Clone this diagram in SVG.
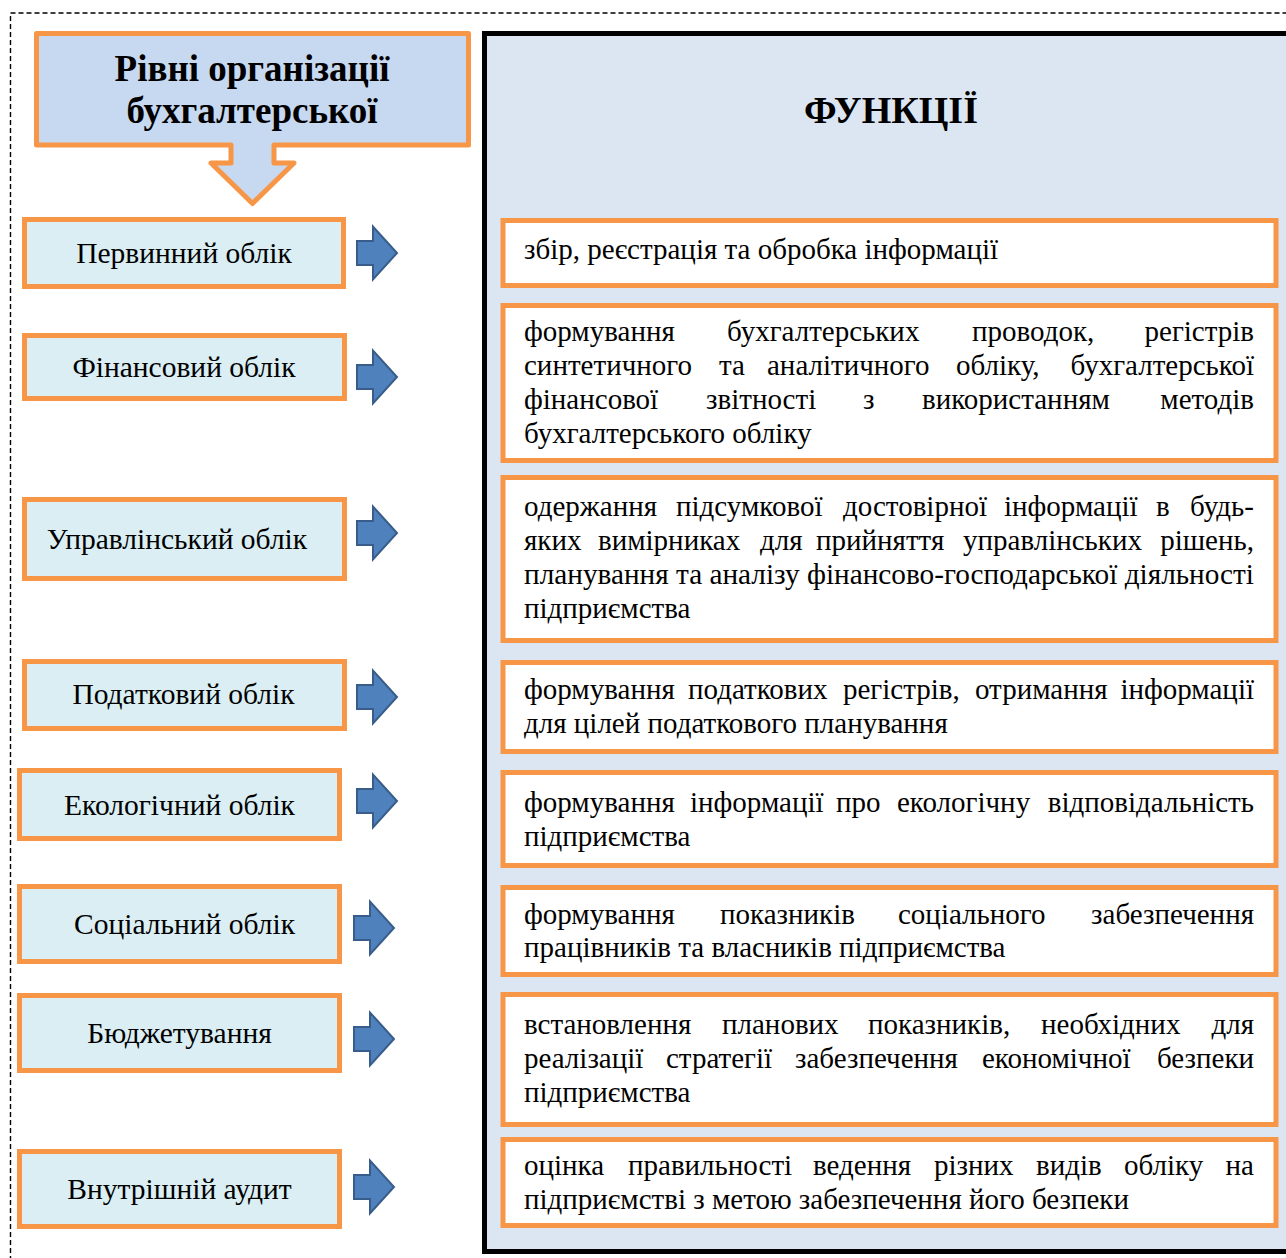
<svg xmlns="http://www.w3.org/2000/svg" width="1286" height="1258" viewBox="0 0 1286 1258">
<style>
.lvl{fill:#DAEEF3;stroke:#F79646;stroke-width:5}
.fn{fill:#FFFFFF;stroke:#F79646;stroke-width:5}
.lt{font-family:"Liberation Serif","Times New Roman",serif;font-size:29.5px;fill:#000;text-anchor:middle}
.t{font-family:"Liberation Serif","Times New Roman",serif;font-size:29px;fill:#000}
.e{text-anchor:end}
.h{font-family:"Liberation Serif","Times New Roman",serif;font-size:37px;font-weight:bold;fill:#000;text-anchor:middle}
.arr{fill:#4F81BD;stroke:#385D8A;stroke-width:2;stroke-linejoin:miter}
</style>
<defs>
<path id="ar" d="M0,-12 H16 V-26.5 L40,0 L16,26.5 V12 H0 Z"/>
</defs>
<rect width="1286" height="1258" fill="#FFFFFF"/>
<rect id="outer" x="10.5" y="13" width="1300" height="1300" fill="none" stroke="#000" stroke-width="1.4" stroke-dasharray="5,3"/>

<g id="panel">
<rect x="484.5" y="33.5" width="900" height="1218" fill="#DCE6F2" stroke="#000" stroke-width="5"/>
<text class="h" x="891" y="123" style="font-size:38px">ФУНКЦІЇ</text>
</g>

<g id="header">
<path d="M36.5,33.5 H468.5 V145 H274 V163 H294 L252.5,203.5 L211,163 H231 V145 H36.5 Z" fill="#C6D9F1" stroke="#F79646" stroke-width="5" stroke-linejoin="round"/>
<text class="h" x="252" y="81">Рівні організації</text>
<text class="h" x="252" y="123">бухгалтерської</text>
</g>

<g id="level1"><rect class="lvl" x="24.5" y="219.5" width="319" height="67"/><text class="lt" x="184" y="263">Первинний облік</text></g>
<g id="level2"><rect class="lvl" x="24.5" y="335.5" width="320" height="63"/><text class="lt" x="184" y="377">Фінансовий облік</text></g>
<g id="level3"><rect class="lvl" x="24.5" y="499.5" width="320" height="79"/><text class="lt" x="177" y="549">Управлінський облік</text></g>
<g id="level4"><rect class="lvl" x="24.5" y="661.5" width="320" height="67"/><text class="lt" x="183.5" y="704">Податковий облік</text></g>
<g id="level5"><rect class="lvl" x="19.5" y="770.5" width="320" height="68"/><text class="lt" x="179.5" y="815">Екологічний облік</text></g>
<g id="level6"><rect class="lvl" x="19.5" y="886.5" width="320" height="75"/><text class="lt" x="184.5" y="934">Соціальний облік</text></g>
<g id="level7"><rect class="lvl" x="19.5" y="995.5" width="320" height="75"/><text class="lt" x="179.5" y="1043">Бюджетування</text></g>
<g id="level8"><rect class="lvl" x="19.5" y="1151.5" width="320" height="75"/><text class="lt" x="179.5" y="1199">Внутрішній аудит</text></g>

<g id="connectors">
<use href="#ar" class="arr" transform="translate(357,253)"/>
<use href="#ar" class="arr" transform="translate(357,377)"/>
<use href="#ar" class="arr" transform="translate(357,533)"/>
<use href="#ar" class="arr" transform="translate(357,697)"/>
<use href="#ar" class="arr" transform="translate(357,801)"/>
<use href="#ar" class="arr" transform="translate(354,928)"/>
<use href="#ar" class="arr" transform="translate(354,1039)"/>
<use href="#ar" class="arr" transform="translate(354,1187)"/>
</g>

<g id="func1"><rect class="fn" x="503" y="220.5" width="773" height="65"/>
<text class="t" x="524" y="259">збір, реєстрація та обробка інформації</text></g>

<g id="func2"><rect class="fn" x="503" y="305.5" width="773" height="155"/>
<text class="t" y="341"><tspan x="524">формування</tspan><tspan x="727">бухгалтерських</tspan><tspan x="972">проводок,</tspan><tspan class="e" x="1254">регістрів</tspan></text>
<text class="t" y="375"><tspan x="524">синтетичного</tspan><tspan x="719">та</tspan><tspan x="767">аналітичного</tspan><tspan x="956">обліку,</tspan><tspan class="e" x="1254">бухгалтерської</tspan></text>
<text class="t" y="409"><tspan x="524">фінансової</tspan><tspan x="706">звітності</tspan><tspan x="863">з</tspan><tspan x="922">використанням</tspan><tspan class="e" x="1254">методів</tspan></text>
<text class="t" x="524" y="443">бухгалтерського обліку</text></g>

<g id="func3"><rect class="fn" x="503" y="477.5" width="773" height="163"/>
<text class="t" y="516"><tspan x="524">одержання</tspan><tspan x="676">підсумкової</tspan><tspan x="843">достовірної</tspan><tspan x="1004">інформації</tspan><tspan x="1156">в</tspan><tspan class="e" x="1254">будь-</tspan></text>
<text class="t" y="550"><tspan x="524">яких</tspan><tspan x="598">вимірниках</tspan><tspan x="760">для</tspan><tspan x="816">прийняття</tspan><tspan x="963">управлінських</tspan><tspan class="e" x="1254">рішень,</tspan></text>
<text class="t" x="524" y="584" textLength="730" lengthAdjust="spacingAndGlyphs">планування та аналізу фінансово-господарської діяльності</text>
<text class="t" x="524" y="618">підприємства</text></g>

<g id="func4"><rect class="fn" x="503" y="662.5" width="773" height="89"/>
<text class="t" y="699"><tspan x="524">формування</tspan><tspan x="688">податкових</tspan><tspan x="843">регістрів,</tspan><tspan x="975">отримання</tspan><tspan class="e" x="1254">інформації</tspan></text>
<text class="t" x="524" y="733">для цілей податкового планування</text></g>

<g id="func5"><rect class="fn" x="503" y="772.5" width="773" height="93"/>
<text class="t" y="812"><tspan x="524">формування</tspan><tspan x="690">інформації</tspan><tspan x="836">про</tspan><tspan x="897">екологічну</tspan><tspan class="e" x="1254">відповідальність</tspan></text>
<text class="t" x="524" y="846">підприємства</text></g>

<g id="func6"><rect class="fn" x="503" y="887.5" width="773" height="87"/>
<text class="t" y="924"><tspan x="524">формування</tspan><tspan x="720">показників</tspan><tspan x="898">соціального</tspan><tspan class="e" x="1254">забезпечення</tspan></text>
<text class="t" x="524" y="957">працівників та власників підприємства</text></g>

<g id="func7"><rect class="fn" x="503" y="994.5" width="773" height="130"/>
<text class="t" y="1034"><tspan x="524">встановлення</tspan><tspan x="722">планових</tspan><tspan x="868">показників,</tspan><tspan x="1041">необхідних</tspan><tspan class="e" x="1254">для</tspan></text>
<text class="t" y="1068"><tspan x="524">реалізації</tspan><tspan x="666">стратегії</tspan><tspan x="795">забезпечення</tspan><tspan x="982">економічної</tspan><tspan class="e" x="1254">безпеки</tspan></text>
<text class="t" x="524" y="1102">підприємства</text></g>

<g id="func8"><rect class="fn" x="503" y="1139.5" width="773" height="86"/>
<text class="t" y="1175"><tspan x="524">оцінка</tspan><tspan x="628">правильності</tspan><tspan x="813">ведення</tspan><tspan x="934">різних</tspan><tspan x="1036">видів</tspan><tspan x="1124">обліку</tspan><tspan class="e" x="1254">на</tspan></text>
<text class="t" x="524" y="1209">підприємстві з метою забезпечення його безпеки</text></g>
</svg>
